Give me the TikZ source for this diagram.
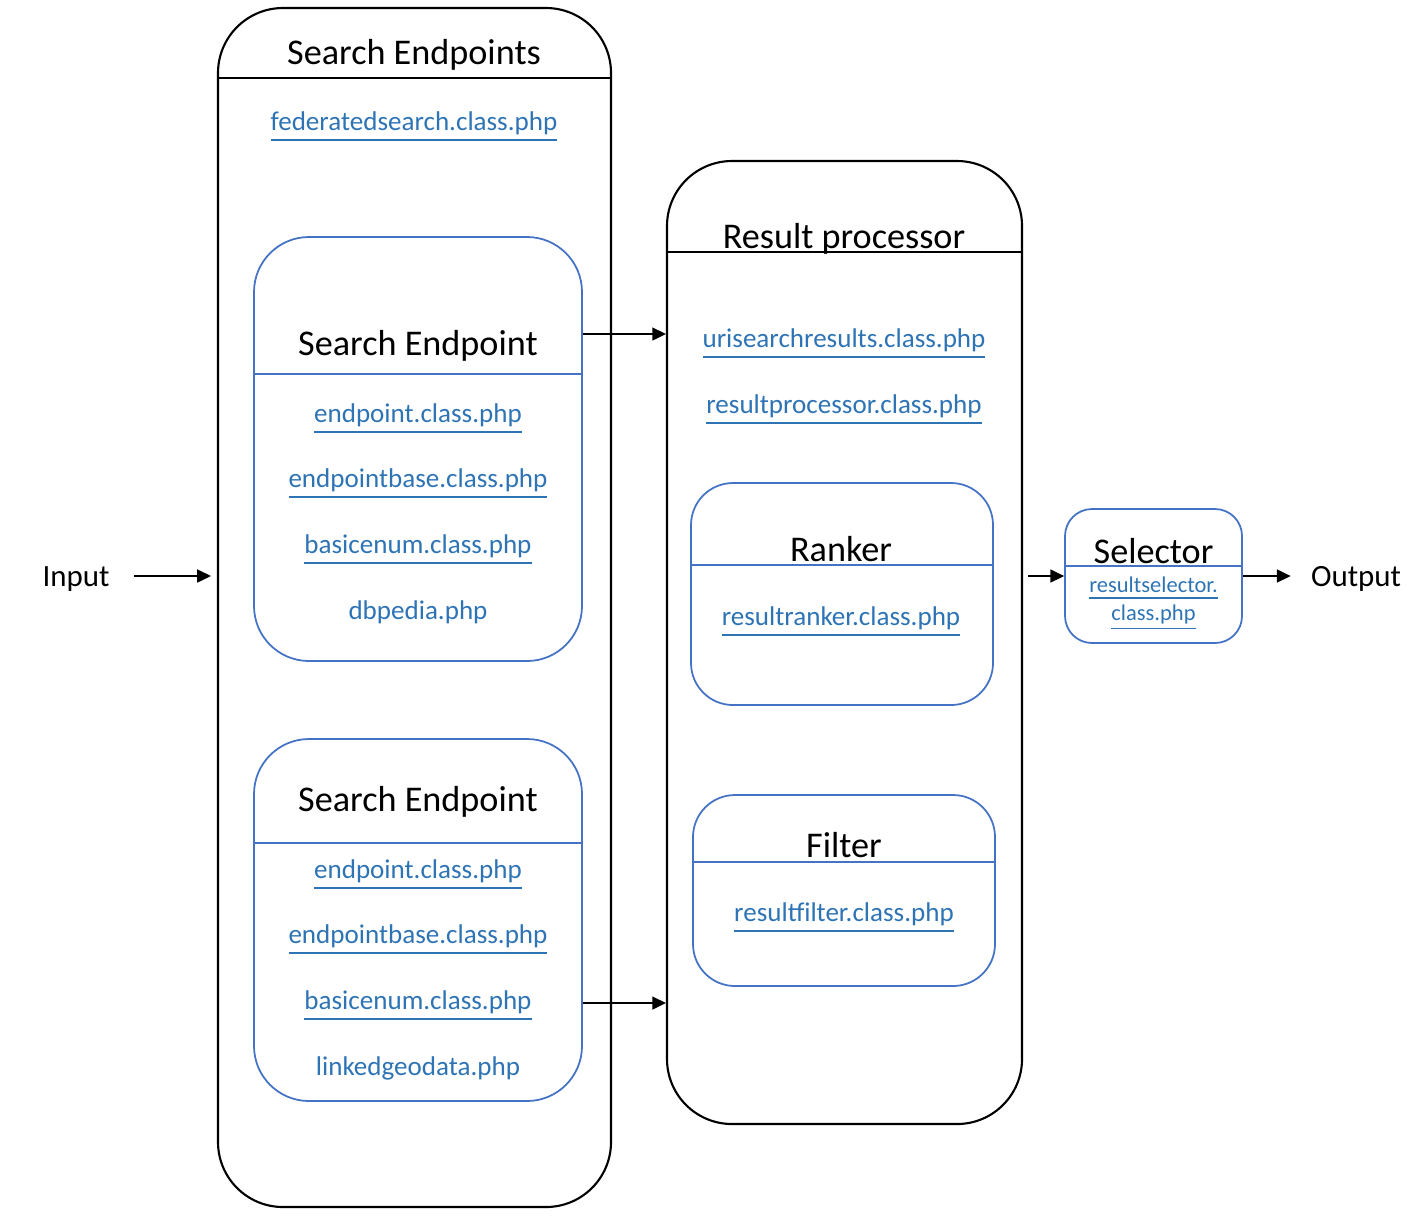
\documentclass[tikz,border=0pt]{standalone}
\usepackage{fontspec}
\setmainfont{Carlito}
\usetikzlibrary{arrows.meta}
\usetikzlibrary{calc}
\definecolor{linkblue}{HTML}{2E74B5}
\definecolor{boxblue}{HTML}{4472C4}
\newcommand{\lnk}[1]{\underline{#1}}
\tikzset{
  bigbox/.style={draw=black,line width=0.6pt,rounded corners=0.65cm,inner sep=0pt},
  bluebox/.style={draw=boxblue,line width=0.5pt,inner sep=0pt},
  heading/.style={font=\fontsize{10.3}{12}\selectfont},
  link/.style={text=linkblue,font=\fontsize{7.7}{9}\selectfont},
  io/.style={font=\fontsize{8.8}{10}\selectfont},
  flow/.style={-{Triangle[length=3.9pt,width=3.7pt]},line width=0.45pt}
}

\begin{document}
\begin{tikzpicture}
\useasboundingbox (0,0) rectangle (14.18,-12.2);
% search endpoints
\node[bigbox,minimum width=3.93cm,minimum height=11.99cm] (eps) at (4.145,-6.075) {};
\draw[line width=0.6pt] ($(eps.north west)+(0,-0.71)$) -- ($(eps.north east)+(0,-0.71)$);
\node[heading] (epstitle) at (4.14,-0.55) {Search Endpoints};
\node[link] (fed) at (4.14,-1.27) {\lnk{federatedsearch.class.php}};
\node[bluebox,rounded corners=0.55cm,minimum width=3.28cm,minimum height=4.24cm] (ep1) at (4.18,-4.49) {};
\draw[boxblue,line width=0.4pt] ($(ep1.north west)+(0,-1.38)$) -- ($(ep1.north east)+(0,-1.38)$);
\node[heading] (ep1title) at (4.18,-3.46) {Search Endpoint};
\node[link] (ep1a) at (4.18,-4.19) {\lnk{endpoint.class.php}};
\node[link] (ep1b) at (4.18,-4.84) {\lnk{endpointbase.class.php}};
\node[link] (ep1c) at (4.18,-5.50) {\lnk{basicenum.class.php}};
\node[link] (ep1d) at (4.18,-6.12) {dbpedia.php};
\node[bluebox,rounded corners=0.55cm,minimum width=3.28cm,minimum height=3.62cm] (ep2) at (4.18,-9.20) {};
\draw[boxblue,line width=0.4pt] ($(ep2.north west)+(0,-1.05)$) -- ($(ep2.north east)+(0,-1.05)$);
\node[heading] (ep2title) at (4.18,-8.02) {Search Endpoint};
\node[link] (ep2a) at (4.18,-8.75) {\lnk{endpoint.class.php}};
\node[link] (ep2b) at (4.18,-9.40) {\lnk{endpointbase.class.php}};
\node[link] (ep2c) at (4.18,-10.06) {\lnk{basicenum.class.php}};
\node[link] (ep2d) at (4.18,-10.68) {linkedgeodata.php};
% result processor
\node[bigbox,minimum width=3.55cm,minimum height=9.63cm] (rp) at (8.445,-6.425) {};
\draw[line width=0.6pt] ($(rp.north west)+(0,-0.92)$) -- ($(rp.north east)+(0,-0.92)$);
\node[heading] (rptitle) at (8.44,-2.39) {Result processor};
\node[link] (rpa) at (8.44,-3.44) {\lnk{urisearchresults.class.php}};
\node[link] (rpb) at (8.44,-4.10) {\lnk{resultprocessor.class.php}};
\node[bluebox,rounded corners=0.42cm,minimum width=3.02cm,minimum height=2.22cm] (rank) at (8.42,-5.94) {};
\draw[boxblue,line width=0.4pt] ($(rank.north west)+(0,-0.83)$) -- ($(rank.north east)+(0,-0.83)$);
\node[heading] (ranktitle) at (8.41,-5.49) {Ranker};
\node[link] (ranka) at (8.41,-6.22) {\lnk{resultranker.class.php}};
\node[bluebox,rounded corners=0.42cm,minimum width=3.02cm,minimum height=1.91cm] (filt) at (8.44,-8.905) {};
\draw[boxblue,line width=0.4pt] ($(filt.north west)+(0,-0.68)$) -- ($(filt.north east)+(0,-0.68)$);
\node[heading] (filttitle) at (8.44,-8.45) {Filter};
\node[link] (filta) at (8.44,-9.18) {\lnk{resultfilter.class.php}};
% selector
\node[bluebox,rounded corners=0.27cm,minimum width=1.77cm,minimum height=1.34cm] (sel) at (11.535,-5.76) {};
\draw[boxblue,line width=0.4pt] ($(sel.north west)+(0,-0.58)$) -- ($(sel.north east)+(0,-0.58)$);
\node[heading] (seltitle) at (11.535,-5.51) {Selector};
\node[link,font=\fontsize{6.4}{7.7}\selectfont,align=center] (sela) at (11.535,-6.04) {\lnk{resultselector.}\\\lnk{class.php}};
% in and out
\node[io] (input) at (0.76,-5.79) {Input};
\node[io] (output) at (13.56,-5.79) {Output};
\draw[flow,shorten <=0.12cm,shorten >=0.06cm] (input.east |- sel.west) -- (eps.west |- sel.west);
\draw[flow] (ep1.east |- 0,-3.34) -- (rp.west |- 0,-3.34);
\draw[flow] (ep2.east |- 0,-10.03) -- (rp.west |- 0,-10.03);
\draw[flow,shorten <=0.05cm] (rp.east |- sel.west) -- (sel.west);
\draw[flow,shorten >=0.08cm] (sel.east) -- (sel.east -| output.west);
\end{tikzpicture}
\end{document}
